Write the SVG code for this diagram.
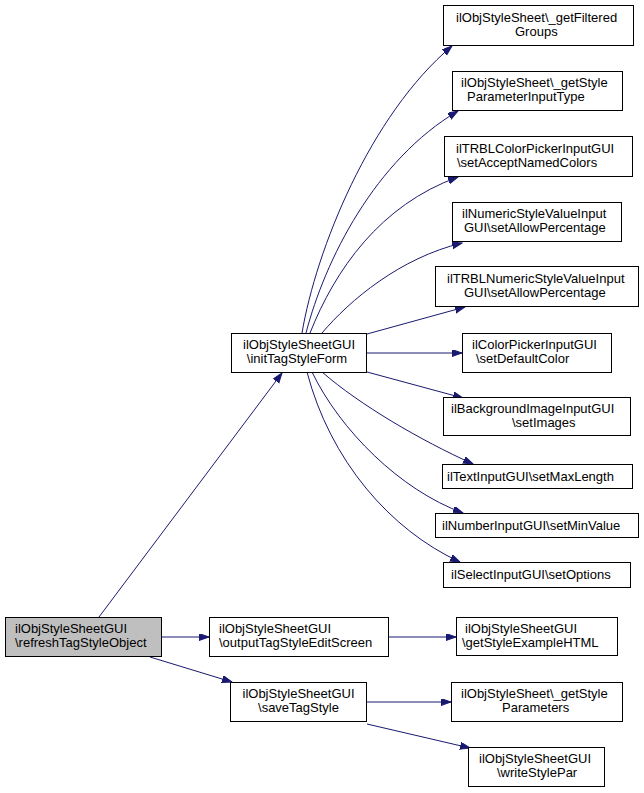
<svg xmlns="http://www.w3.org/2000/svg" width="644" height="793" viewBox="0 0 644 793">
<style>
.n rect{fill:#ffffff;stroke:#000000;stroke-width:1}
.n text{font-family:"Liberation Sans",Arial,Helvetica,sans-serif;font-size:13px;fill:#000000}
.c{text-anchor:middle}
.e path{fill:none;stroke:#191970;stroke-width:1;marker-end:url(#ah)}
</style>
<defs>
<marker id="ah" markerUnits="userSpaceOnUse" markerWidth="11" markerHeight="8" refX="10" refY="3.5" orient="auto">
<path d="M0,0 L10,3.5 L0,7 z" fill="#191970" stroke="#191970" stroke-width="1"/>
</marker>
</defs>
<rect width="644" height="793" fill="#ffffff"/>
<g id="edges" class="e">
<path d="M99,617 L282,373"/>
<path d="M161,637 L209,637"/>
<path d="M150,657 L232,682"/>
<path d="M388,637 L456,637"/>
<path d="M367,702 L451,702"/>
<path d="M367,724 L470,748"/>
<path d="M302,333 C316,250 370,115 452,46"/>
<path d="M306,333 C325,260 375,160 458,111"/>
<path d="M310,333 C335,270 380,205 458,177"/>
<path d="M322,333 C350,300 400,258 462,243"/>
<path d="M367,334 L465,307"/>
<path d="M366,353 L462,353"/>
<path d="M367,372 L463,398"/>
<path d="M322,372 C360,405 420,440 473,464"/>
<path d="M312,372 C340,430 400,490 463,513"/>
<path d="M307,372 C330,460 390,530 460,562"/>
</g>
<g id="node_refreshTagStyleObject" class="n">
<rect x="5.5" y="617.5" width="156" height="39" style="fill:#bfbfbf"/>
<text x="15" y="633">ilObjStyleSheetGUI</text>
<text x="15" y="647">\refreshTagStyleObject</text>
</g>
<g id="node_initTagStyleForm" class="n">
<rect x="231.5" y="333.5" width="135" height="39"/>
<text class="c" x="299" y="349">ilObjStyleSheetGUI</text>
<text class="c" x="297" y="363">\initTagStyleForm</text>
</g>
<g id="node_outputTagStyleEditScreen" class="n">
<rect x="209.5" y="617.5" width="179" height="39"/>
<text x="219" y="633">ilObjStyleSheetGUI</text>
<text x="219" y="647">\outputTagStyleEditScreen</text>
</g>
<g id="node_saveTagStyle" class="n">
<rect x="230.5" y="682.5" width="136" height="39"/>
<text class="c" x="298.5" y="698">ilObjStyleSheetGUI</text>
<text class="c" x="298.5" y="712">\saveTagStyle</text>
</g>
<g id="node_getFilteredGroups" class="n">
<rect x="443.5" y="5.5" width="190" height="40"/>
<text x="456" y="21.5">ilObjStyleSheet\_getFiltered</text>
<text x="515" y="35.5">Groups</text>
</g>
<g id="node_getStyleParameterInputType" class="n">
<rect x="452.5" y="71.5" width="170" height="39"/>
<text x="461" y="87">ilObjStyleSheet\_getStyle</text>
<text x="467" y="101">ParameterInputType</text>
</g>
<g id="node_setAcceptNamedColors" class="n">
<rect x="444.5" y="136.5" width="188" height="40"/>
<text x="456" y="152.5">ilTRBLColorPickerInputGUI</text>
<text x="457" y="166.5">\setAcceptNamedColors</text>
</g>
<g id="node_NumericSetAllowPercentage" class="n">
<rect x="452.5" y="202.5" width="169" height="39"/>
<text x="462" y="218">ilNumericStyleValueInput</text>
<text x="464" y="232">GUI\setAllowPercentage</text>
</g>
<g id="node_TRBLNumericSetAllowPercentage" class="n">
<rect x="435.5" y="266.5" width="203" height="40"/>
<text x="447" y="282.5">ilTRBLNumericStyleValueInput</text>
<text x="464" y="296.5">GUI\setAllowPercentage</text>
</g>
<g id="node_setDefaultColor" class="n">
<rect x="462.5" y="333.5" width="149" height="39"/>
<text x="472" y="349">ilColorPickerInputGUI</text>
<text x="476" y="363">\setDefaultColor</text>
</g>
<g id="node_setImages" class="n">
<rect x="443.5" y="397.5" width="187" height="38"/>
<text x="451" y="412.5">ilBackgroundImageInputGUI</text>
<text x="512" y="426.5">\setImages</text>
</g>
<g id="node_setMaxLength" class="n">
<rect x="442.5" y="464.5" width="190" height="24"/>
<text x="447" y="481">ilTextInputGUI\setMaxLength</text>
</g>
<g id="node_setMinValue" class="n">
<rect x="435.5" y="513.5" width="203" height="24"/>
<text x="442" y="530">ilNumberInputGUI\setMinValue</text>
</g>
<g id="node_setOptions" class="n">
<rect x="443.5" y="562.5" width="187" height="25"/>
<text x="451" y="579">ilSelectInputGUI\setOptions</text>
</g>
<g id="node_getStyleExampleHTML" class="n">
<rect x="456.5" y="617.5" width="161" height="38"/>
<text x="465" y="632.5">ilObjStyleSheetGUI</text>
<text x="462" y="646.5">\getStyleExampleHTML</text>
</g>
<g id="node_getStyleParameters" class="n">
<rect x="451.5" y="682.5" width="171" height="39"/>
<text x="461" y="698">ilObjStyleSheet\_getStyle</text>
<text x="502" y="712">Parameters</text>
</g>
<g id="node_writeStylePar" class="n">
<rect x="468.5" y="747.5" width="136" height="39"/>
<text x="479" y="763">ilObjStyleSheetGUI</text>
<text x="497" y="777">\writeStylePar</text>
</g>
</svg>
